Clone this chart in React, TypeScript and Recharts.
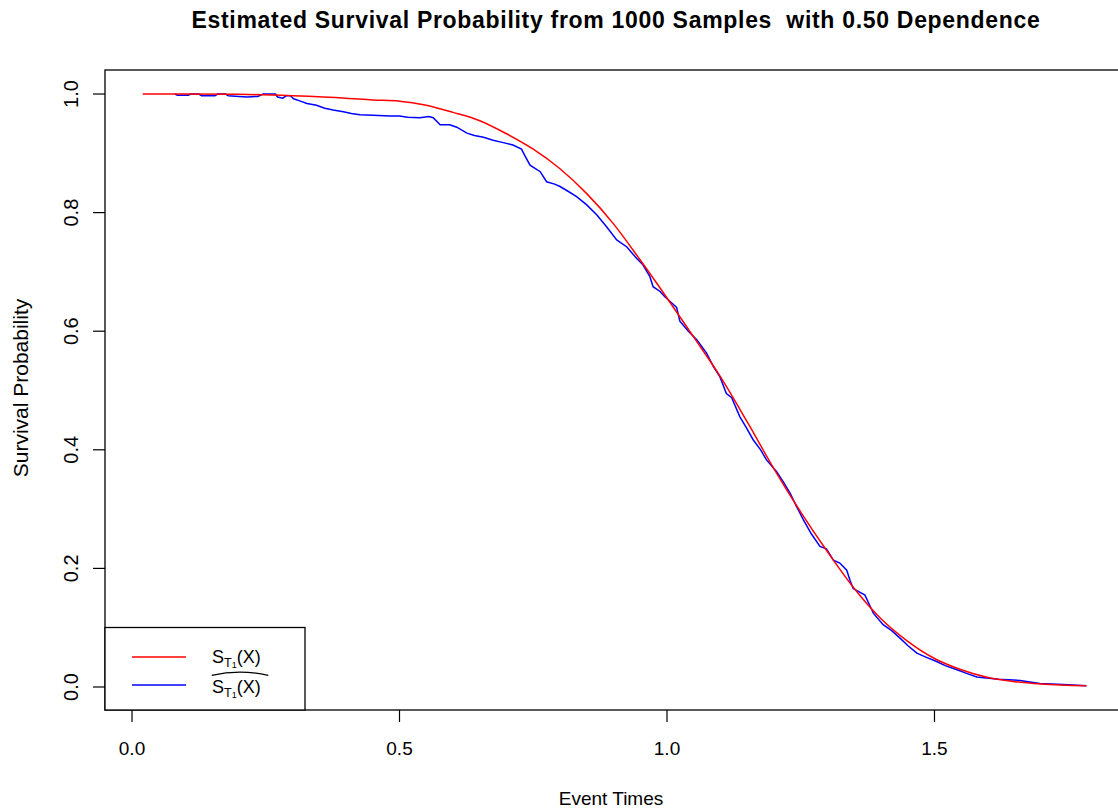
import React from "react";
import { LineChart, Line, XAxis, YAxis, Customized } from "recharts";

// true survival curve S_T1(x)
const trueTimes = [
  0.02, 0.1, 0.2, 0.3, 0.4, 0.45, 0.5, 0.55, 0.6, 0.65, 0.7, 0.75, 0.8, 0.85,
  0.9, 0.95, 1.0, 1.05, 1.1, 1.15, 1.2, 1.25, 1.3, 1.35, 1.4, 1.45, 1.5, 1.55,
  1.6, 1.65, 1.7, 1.784,
];
const trueSurv = [
  1.0, 1.0, 0.9995, 0.997, 0.993, 0.99, 0.988, 0.981, 0.969, 0.955, 0.933,
  0.907, 0.874, 0.832, 0.781, 0.72, 0.656, 0.59, 0.523, 0.447, 0.368, 0.295,
  0.228, 0.166, 0.115, 0.077, 0.048, 0.029, 0.016, 0.009, 0.005, 0.002,
];

// estimated (Kaplan-Meier style) curve
const kmTimes = [
  0.08, 0.085, 0.105, 0.11, 0.125, 0.13, 0.155, 0.16, 0.175, 0.18, 0.2, 0.215,
  0.235, 0.245, 0.268, 0.272, 0.282, 0.288, 0.296, 0.302, 0.315, 0.327, 0.345,
  0.36, 0.376, 0.395, 0.41, 0.426, 0.45, 0.482, 0.5, 0.515, 0.538, 0.555,
  0.563, 0.576, 0.594, 0.607, 0.626, 0.64, 0.657, 0.675, 0.694, 0.712, 0.728,
  0.735, 0.744, 0.763, 0.775, 0.79, 0.8, 0.815, 0.831, 0.85, 0.869, 0.887,
  0.906, 0.925, 0.943, 0.955, 0.968, 0.974, 0.987, 0.996, 1.018, 1.024, 1.04,
  1.056, 1.074, 1.087, 1.099, 1.111, 1.121, 1.136, 1.148, 1.161, 1.175, 1.186,
  1.205, 1.218, 1.23, 1.243, 1.255, 1.27, 1.286, 1.298, 1.311, 1.323, 1.336,
  1.342, 1.348, 1.37, 1.386, 1.404, 1.42, 1.436, 1.45, 1.467, 1.485, 1.504,
  1.52, 1.542, 1.56, 1.579, 1.62, 1.66, 1.697, 1.74, 1.784,
];
const kmSurv = [
  1.0, 0.998, 0.998, 1.0, 1.0, 0.997, 0.997, 1.0, 1.0, 0.997, 0.996, 0.995,
  0.996, 1.0, 1.0, 0.995, 0.993, 0.997, 0.997, 0.992, 0.988, 0.984, 0.981,
  0.976, 0.973, 0.97, 0.967, 0.965, 0.964, 0.963, 0.963, 0.961, 0.96, 0.962,
  0.96, 0.948, 0.948, 0.944, 0.934, 0.93, 0.927, 0.922, 0.918, 0.914, 0.907,
  0.895, 0.88, 0.869, 0.852, 0.848, 0.844, 0.836, 0.827, 0.813, 0.796, 0.776,
  0.754, 0.742, 0.723, 0.712, 0.692, 0.675, 0.667, 0.658, 0.64, 0.617, 0.6,
  0.585, 0.563, 0.54, 0.523, 0.495, 0.488, 0.456, 0.438, 0.417, 0.4, 0.383,
  0.363, 0.345, 0.327, 0.303, 0.282, 0.258, 0.237, 0.233, 0.214, 0.209, 0.197,
  0.18, 0.166, 0.155, 0.124, 0.105, 0.095, 0.082, 0.07, 0.057, 0.05, 0.043,
  0.036, 0.029, 0.023, 0.017, 0.013, 0.011, 0.006, 0.004, 0.002,
];

const xTicks = [0, 0.5, 1.0, 1.5];
const yTicks = [0, 0.2, 0.4, 0.6, 0.8, 1.0];

const trueData = trueTimes.map((t, i) => ({ t, s: trueSurv[i] }));
const kmData = kmTimes.map((t, i) => ({ t, s: kmSurv[i] }));

const FONT = "'Liberation Sans', Arial, Helvetica, sans-serif";

const XTick = (props: any) => {
  const { x, payload } = props;
  return (
    <text x={x} y={755} textAnchor="middle" fontSize={19} fontFamily={FONT} fill="#000">
      {Number(payload.value).toFixed(1)}
    </text>
  );
};

const YTick = (props: any) => {
  const { y, payload } = props;
  return (
    <text
      x={78}
      y={y}
      transform={`rotate(-90 78 ${y})`}
      textAnchor="middle"
      fontSize={20}
      fontFamily={FONT}
      fill="#000"
    >
      {Number(payload.value).toFixed(1)}
    </text>
  );
};

// S_{T_1}(X) label
const SLabel = ({ x, y }: { x: number; y: number }) => (
  <text x={x} y={y} fontSize={18} fontFamily={FONT} fill="#000">
    S
    <tspan fontSize={12.6} dy={3.7}>T</tspan>
    <tspan fontSize={9} dy={1.5}>1</tspan>
    <tspan fontSize={18} dy={-5.2}>(X)</tspan>
  </text>
);

const Overlay = () => (
  <g>
    {/* plot frame */}
    <rect x={105} y={70} width={1017} height={640} fill="none" stroke="#000" strokeWidth={1.3} />
    {/* title */}
    <text
      x={616}
      y={28}
      textAnchor="middle"
      fontSize={23}
      fontWeight="bold"
      letterSpacing={0.7}
      fontFamily={FONT}
      fill="#000"
    >
      {"Estimated Survival Probability from 1000 Samples\u00a0 with 0.50 Dependence"}
    </text>
    {/* axis titles */}
    <text x={611} y={805} textAnchor="middle" fontSize={19} fontFamily={FONT} fill="#000">
      Event Times
    </text>
    <text
      x={28}
      y={388}
      transform="rotate(-90 28 388)"
      textAnchor="middle"
      fontSize={21}
      fontFamily={FONT}
      fill="#000"
    >
      Survival Probability
    </text>
    {/* legend */}
    <rect x={105} y={627.5} width={200} height={82.5} fill="#fff" stroke="#000" strokeWidth={1.3} />
    <line x1={132} y1={657} x2={186} y2={657} stroke="#ff0000" strokeWidth={1.5} />
    <line x1={132} y1={685} x2={186} y2={685} stroke="#0000ff" strokeWidth={1.5} />
    <SLabel x={212} y={663} />
    <path d="M211.7 675.3 Q240 669 268.3 675.3" fill="none" stroke="#000" strokeWidth={1.2} />
    <SLabel x={212} y={693} />
  </g>
);

const App: React.FC = () => {
  return (
    <div style={{ width: 1118, height: 812, overflow: "hidden", background: "#fff" }}>
      <style>{"body{margin:0}"}</style>
      <LineChart
        width={1130}
        height={812}
        margin={{ top: 70, right: 8, bottom: 62, left: 65 }}
      >
        <XAxis
          type="number"
          dataKey="t"
          scale="linear"
          domain={[-0.0505, 1.8505]}
          allowDataOverflow
          ticks={xTicks}
          interval={0}
          axisLine={false}
          tickLine={{ stroke: "#000", strokeWidth: 1.2 }}
          tickSize={12}
          height={40}
          tick={<XTick />}
        />
        <YAxis
          type="number"
          dataKey="s"
          scale="linear"
          domain={[-0.0388, 1.0405]}
          allowDataOverflow
          ticks={yTicks}
          interval={0}
          axisLine={false}
          tickLine={{ stroke: "#000", strokeWidth: 1.2 }}
          tickSize={12}
          width={40}
          tick={<YTick />}
        />
        <Line
          data={kmData}
          dataKey="s"
          type="linear"
          stroke="#0000ff"
          strokeWidth={1.5}
          dot={false}
          isAnimationActive={false}
        />
        <Line
          data={trueData}
          dataKey="s"
          type="monotone"
          stroke="#ff0000"
          strokeWidth={1.5}
          dot={false}
          isAnimationActive={false}
        />
        <Customized component={Overlay} />
      </LineChart>
    </div>
  );
};

export default App;
